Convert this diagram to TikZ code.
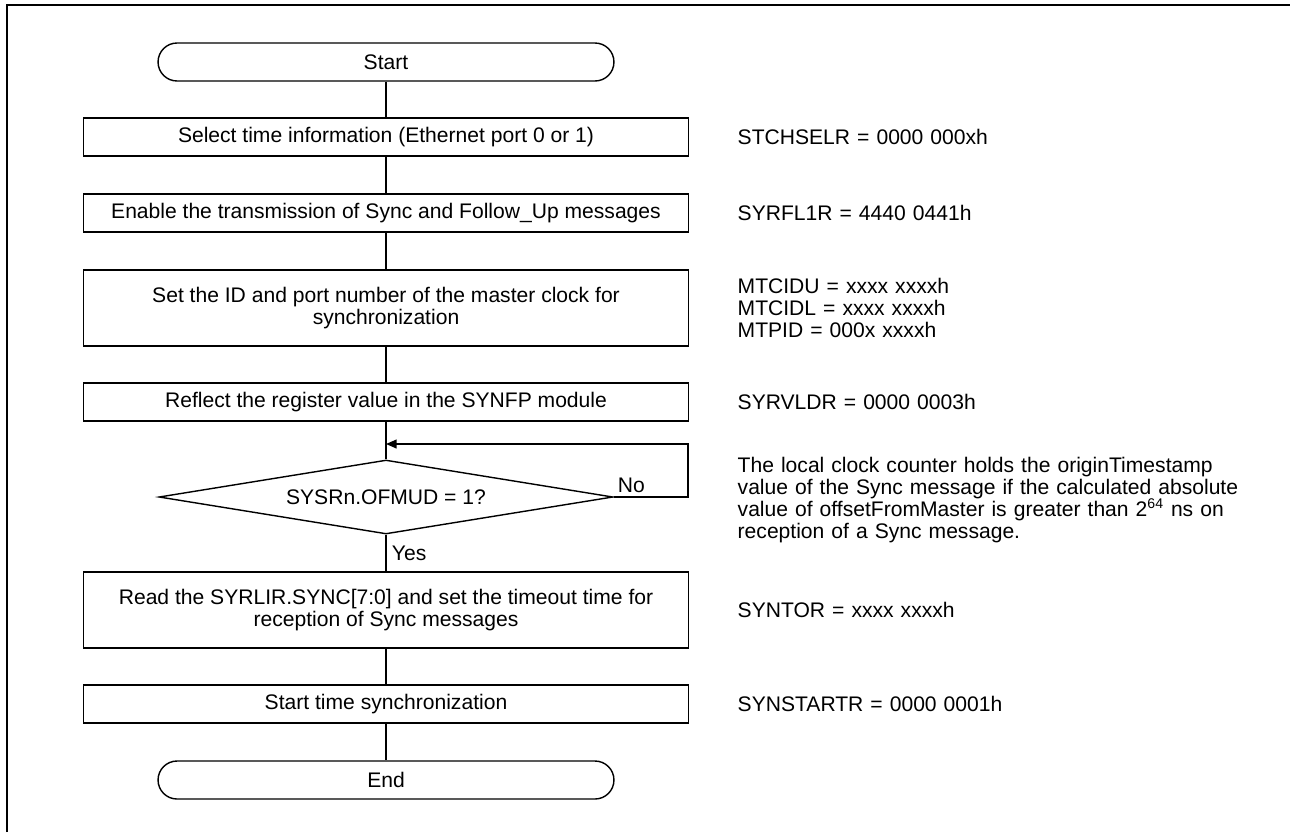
\documentclass[tikz,border=0pt]{standalone}
\usepackage{fontspec}
\setmainfont{Liberation Sans}
\usetikzlibrary{arrows.meta,shapes.geometric}

\tikzset{
  terminal/.style={draw, rounded corners=0.38cm, minimum width=9.12cm, minimum height=0.76cm, inner sep=0pt},
  process/.style={draw, minimum width=12.1cm, minimum height=0.76cm, inner sep=0pt, align=center},
  decision/.style={draw, diamond, aspect=6, minimum width=9.08cm, minimum height=1.48cm, inner sep=0pt},
  reglabel/.style={anchor=west, inner sep=0pt, text width=10.5cm, align=left},
}

\begin{document}
\begin{tikzpicture}[x=0.02cm, y=-0.02cm, line width=0.8pt, font=\fontsize{12}{12.5}\selectfont]

\useasboundingbox (0,0) rectangle (1290,832);

% Frame
\draw[line width=1.2pt] (7,832) -- (7,5) -- (1290,5);

% Flow
\node[terminal] (start) at (386,62) {Start};
\node[process] (selport) at (386,137) {Select time information (Ethernet port 0 or 1)};
\node[process] (enable) at (386,213) {Enable the transmission of Sync and Follow\_Up messages};
\node[process, minimum height=1.52cm] (setid) at (386,308) {Set the ID and port number of the master clock for\\synchronization};
\node[process] (reflect) at (386,402) {Reflect the register value in the SYNFP module};
\node[decision] (ofmud) at (386,497) {SYSRn.OFMUD = 1?};
\node[process, minimum height=1.52cm] (readsync) at (386,610) {Read the SYRLIR.SYNC[7:0] and set the timeout time for\\reception of Sync messages};
\node[process] (startsync) at (386,704) {Start time synchronization};
\node[terminal] (finish) at (386,780) {End};

% Register settings
\node[reglabel] (regsel) at (737,137) {STCHSELR = 0000 000xh};
\node[reglabel] (regfl) at (737,213) {SYRFL1R = 4440 0441h};
\node[reglabel] (regid) at (737,308) {MTCIDU = xxxx xxxxh\\MTCIDL = xxxx xxxxh\\MTPID = 000x xxxxh};
\node[reglabel] (regvld) at (737,402) {SYRVLDR = 0000 0003h};
\node[reglabel] (note) at (737,500) {The local clock counter holds the originTimestamp\\value of the Sync message if the calculated absolute\\value of offsetFromMaster is greater than 2\textsuperscript{64} ns on\\reception of a Sync message.};
\node[reglabel] (regtor) at (737,610) {SYNTOR = xxxx xxxxh};
\node[reglabel] (regstart) at (737,704) {SYNSTARTR = 0000 0001h};

% Connectors
\foreach \a/\b in {start/selport, selport/enable, enable/setid, setid/reflect, reflect/ofmud, readsync/startsync, startsync/finish}
  \draw (\a) -- (\b);
\draw (ofmud) -- node[right, inner sep=3pt] {Yes} (readsync);

\coordinate (loopin) at (386,444);
\coordinate (loopr) at (688,444);
\draw[-{Triangle[length=6pt, width=5pt]}] (ofmud.east) node[above right, inner sep=2pt] {No} -| (loopr) -- (loopin);

\end{tikzpicture}
\end{document}
